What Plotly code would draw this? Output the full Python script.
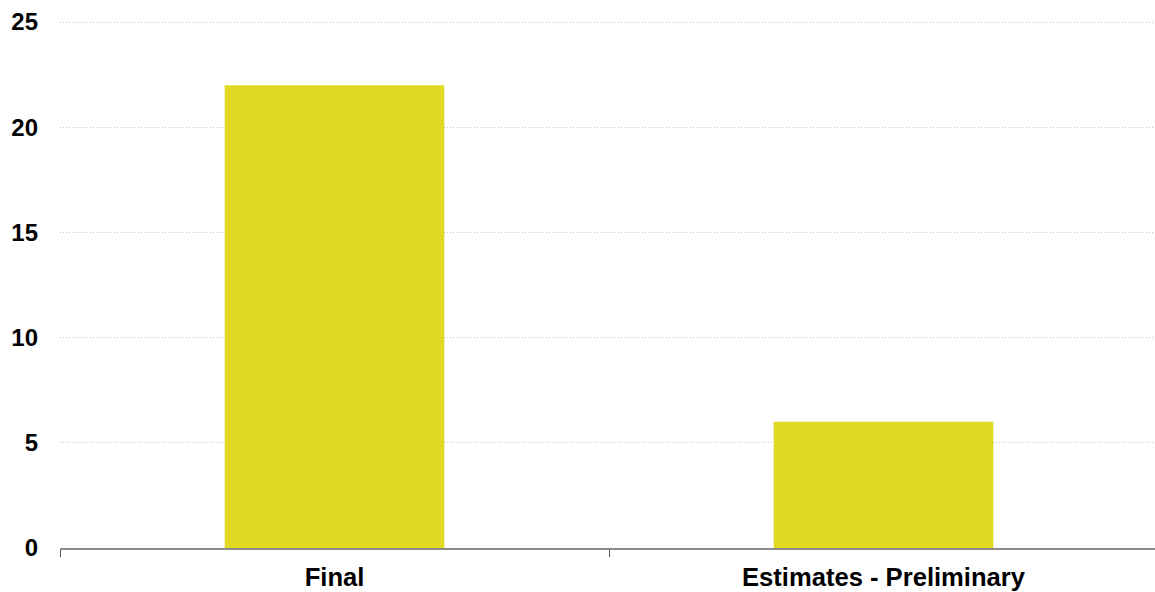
import plotly.graph_objects as go

categories = ["Final", "Estimates - Preliminary"]
values = [22, 6]
y_ticks = [0, 5, 10, 15, 20, 25]

bar_color = "#E1D921"
font_family = "Liberation Sans, Arial, sans-serif"

fig = go.Figure(
    go.Bar(
        x=categories,
        y=values,
        marker=dict(color=bar_color, line=dict(width=0)),
        width=0.4,
        hoverinfo="x+y",
    )
)

plot_width_px = 1155 - 60
category_px = 549

fig.update_layout(
    width=1155,
    height=592,
    margin=dict(l=60, r=0, t=21, b=44),
    paper_bgcolor="white",
    plot_bgcolor="white",
    showlegend=False,
    font=dict(family=font_family, color="#000000"),
    xaxis=dict(
        range=[-0.5, -0.5 + plot_width_px / category_px],
        showgrid=False,
        showline=True,
        linecolor="#8a8a8a",
        linewidth=2,
        ticks="outside",
        tickson="boundaries",
        ticklen=7,
        tickwidth=1,
        tickcolor="#555555",
        tickfont=dict(size=25.6, family=font_family, color="#000000", weight="bold"),
        ticklabelstandoff=5,
        zeroline=False,
    ),
    yaxis=dict(
        range=[0, 25.05],
        tickvals=y_ticks,
        ticktext=[str(v) for v in y_ticks],
        showgrid=True,
        gridcolor="#c4c4c4",
        griddash="1px,2px",
        gridwidth=1,
        showline=False,
        zeroline=False,
        ticks="",
        tickfont=dict(size=24, family=font_family, color="#000000", weight="bold"),
        ticklabelstandoff=21,
    ),
)

fig.write_html("out.html")
